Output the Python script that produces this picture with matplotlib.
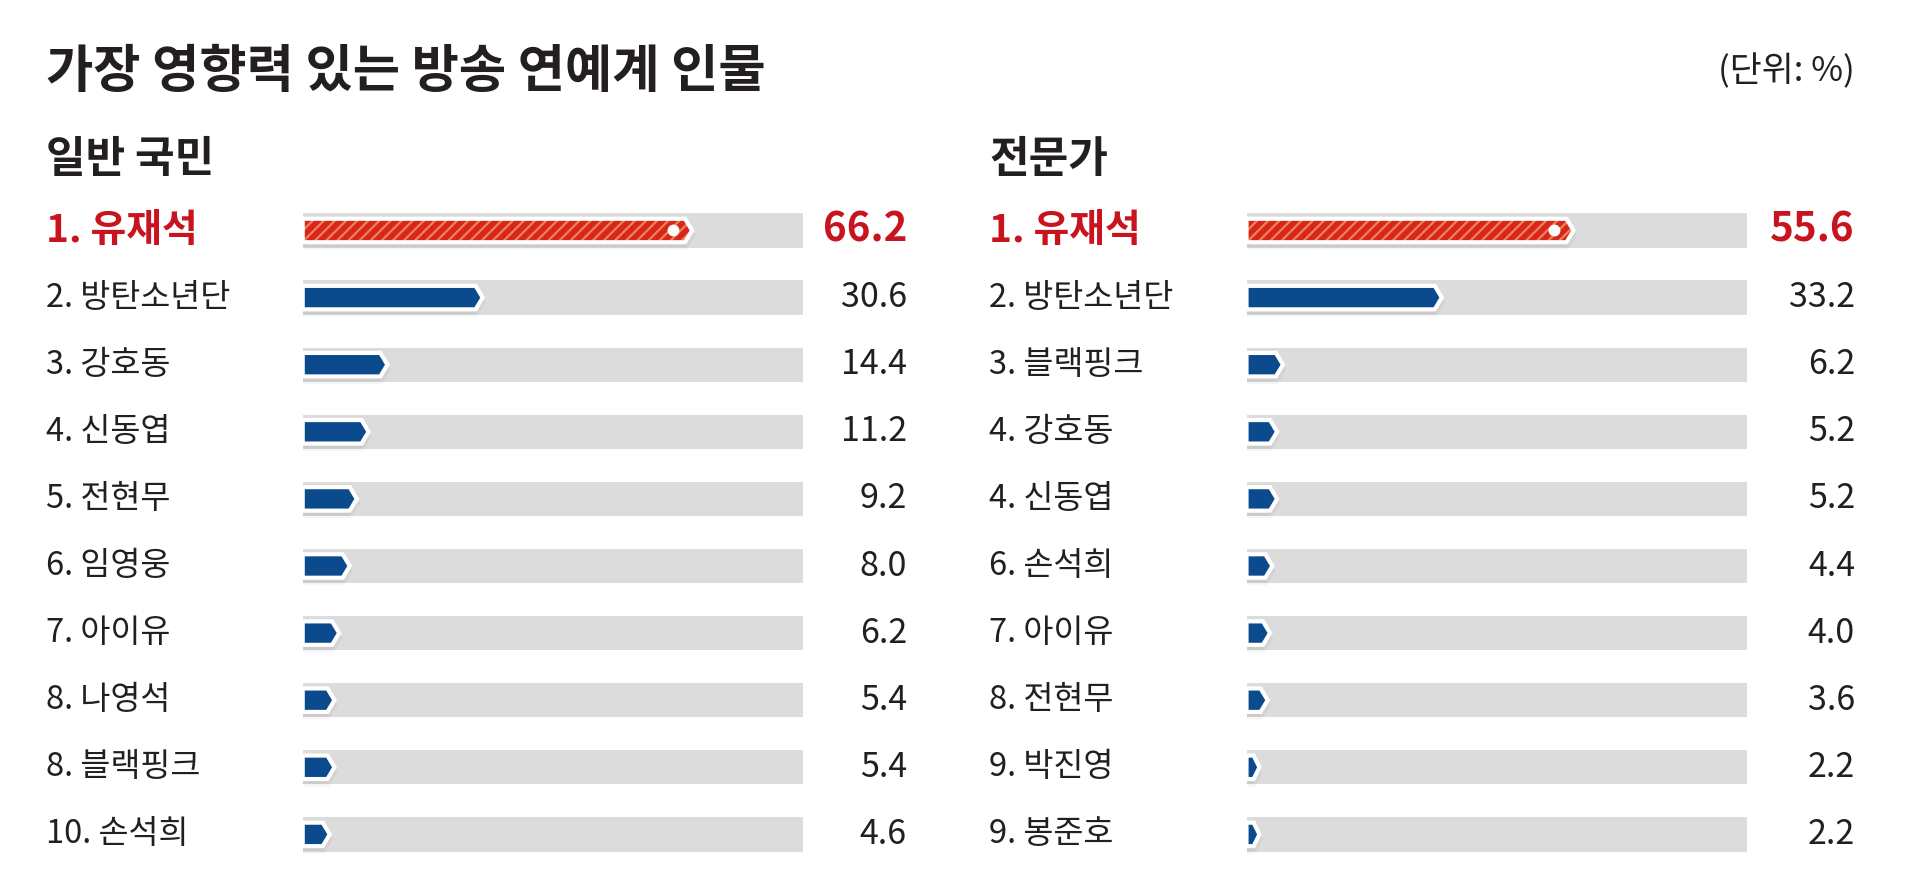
import matplotlib
matplotlib.use("Agg")
import matplotlib.pyplot as plt
from matplotlib.patches import Polygon
from matplotlib.transforms import blended_transform_factory

plt.rcParams["font.family"] = ["Noto Sans CJK KR", "DejaVu Sans"]
plt.rcParams["hatch.linewidth"] = 1.6

# ---- data -------------------------------------------------------------------
TITLE = "가장 영향력 있는 방송 연예계 인물"
UNIT = "(단위: %)"
PUBLIC_TITLE = "일반 국민"
PUBLIC_NAMES = ["1. 유재석", "2. 방탄소년단", "3. 강호동", "4. 신동엽", "5. 전현무",
                "6. 임영웅", "7. 아이유", "8. 나영석", "8. 블랙핑크", "10. 손석희"]
PUBLIC_VALS = [66.2, 30.6, 14.4, 11.2, 9.2, 8.0, 6.2, 5.4, 5.4, 4.6]
EXPERT_TITLE = "전문가"
EXPERT_NAMES = ["1. 유재석", "2. 방탄소년단", "3. 블랙핑크", "4. 강호동", "4. 신동엽",
                "6. 손석희", "7. 아이유", "8. 전현무", "9. 박진영", "9. 봉준호"]
EXPERT_VALS = [55.6, 33.2, 6.2, 5.2, 5.2, 4.4, 4.0, 3.6, 2.2, 2.2]
TRACK_MAX = 85

# ---- style ------------------------------------------------------------------
INK = "#231f20"
RED_TXT = "#c8141e"
RED = "#d8261c"
STRIPE = "#ee8356"
BLUE = "#0b4a8c"
TRACK = "#dcdcdc"
W, H = 1920, 896


def bar_shape(v, y, h, tip):
    tip = min(tip, v * 0.45)
    return [(0, y - h / 2), (v - tip, y - h / 2), (v, y),
            (v - tip, y + h / 2), (0, y + h / 2)]


def draw_panel(fig, ax_left_px, label_x_px, value_x_px, sub_title, names, vals):
    top_px, row_px = 230.5, 67.1
    n = len(vals)
    y0 = top_px - row_px / 2
    y1 = top_px + row_px * (n - 0.5)
    ax = fig.add_axes([ax_left_px / W, 1 - y1 / H, 500 / W, (y1 - y0) / H])
    ax.set_xlim(0, TRACK_MAX)
    ax.set_ylim(n - 0.5, -0.5)
    ax.axis("off")
    tr = blended_transform_factory(fig.transFigure, ax.transData)

    fig.text(label_x_px / W, 1 - 159 / H, sub_title, fontsize=31, fontweight="bold",
             color=INK, ha="left", va="center")

    for i, (name, v) in enumerate(zip(names, vals)):
        ax.barh(i, TRACK_MAX, height=0.51, color=TRACK, lw=0, zorder=1)
        pts = bar_shape(v, i, 0.35, 1.2)
        # soft shadow below the bar
        sh = [(x, y + 0.07) for x, y in pts]
        ax.add_patch(Polygon(sh, closed=True, facecolor="#000000", alpha=0.04,
                             lw=4, edgecolor="#000000", zorder=2))
        if i == 0:
            ax.add_patch(Polygon(pts, closed=True, facecolor=RED, edgecolor=STRIPE,
                                 hatch="///", lw=0, zorder=3))
            ax.add_patch(Polygon(pts, closed=True, fill=False, edgecolor="white",
                                 lw=3, zorder=4))
            ax.plot(v - 3.3, i, "o", color="white", ms=8.5, mew=0, zorder=5)
            ax.text(label_x_px / W, i, name, transform=tr, fontsize=28,
                    fontweight="bold", color=RED_TXT, ha="left", va="center")
            ax.text(value_x_px / W, i, f"{v:.1f}", transform=tr, fontsize=29,
                    fontweight="bold", color=RED_TXT, ha="right", va="center")
        else:
            ax.add_patch(Polygon(pts, closed=True, facecolor=BLUE, edgecolor="white",
                                 lw=3, zorder=3))
            ax.text(label_x_px / W, i, name, transform=tr, fontsize=23.5,
                    color=INK, ha="left", va="center")
            ax.text(value_x_px / W, i, f"{v:.1f}", transform=tr, fontsize=24.5,
                    color=INK, ha="right", va="center")
    return ax


fig = plt.figure(figsize=(W / 100, H / 100), dpi=100)
fig.patch.set_facecolor("white")

fig.text(46 / W, 1 - 71 / H, TITLE, fontsize=37, fontweight="bold", color=INK,
         ha="left", va="center")
fig.text(1855 / W, 1 - 72 / H, UNIT, fontsize=25, color=INK, ha="right", va="center")

draw_panel(fig, 302.7, 46, 907, PUBLIC_TITLE, PUBLIC_NAMES, PUBLIC_VALS)
draw_panel(fig, 1246.5, 989, 1855, EXPERT_TITLE, EXPERT_NAMES, EXPERT_VALS)

fig.savefig("out.png", dpi=100, facecolor="white")
